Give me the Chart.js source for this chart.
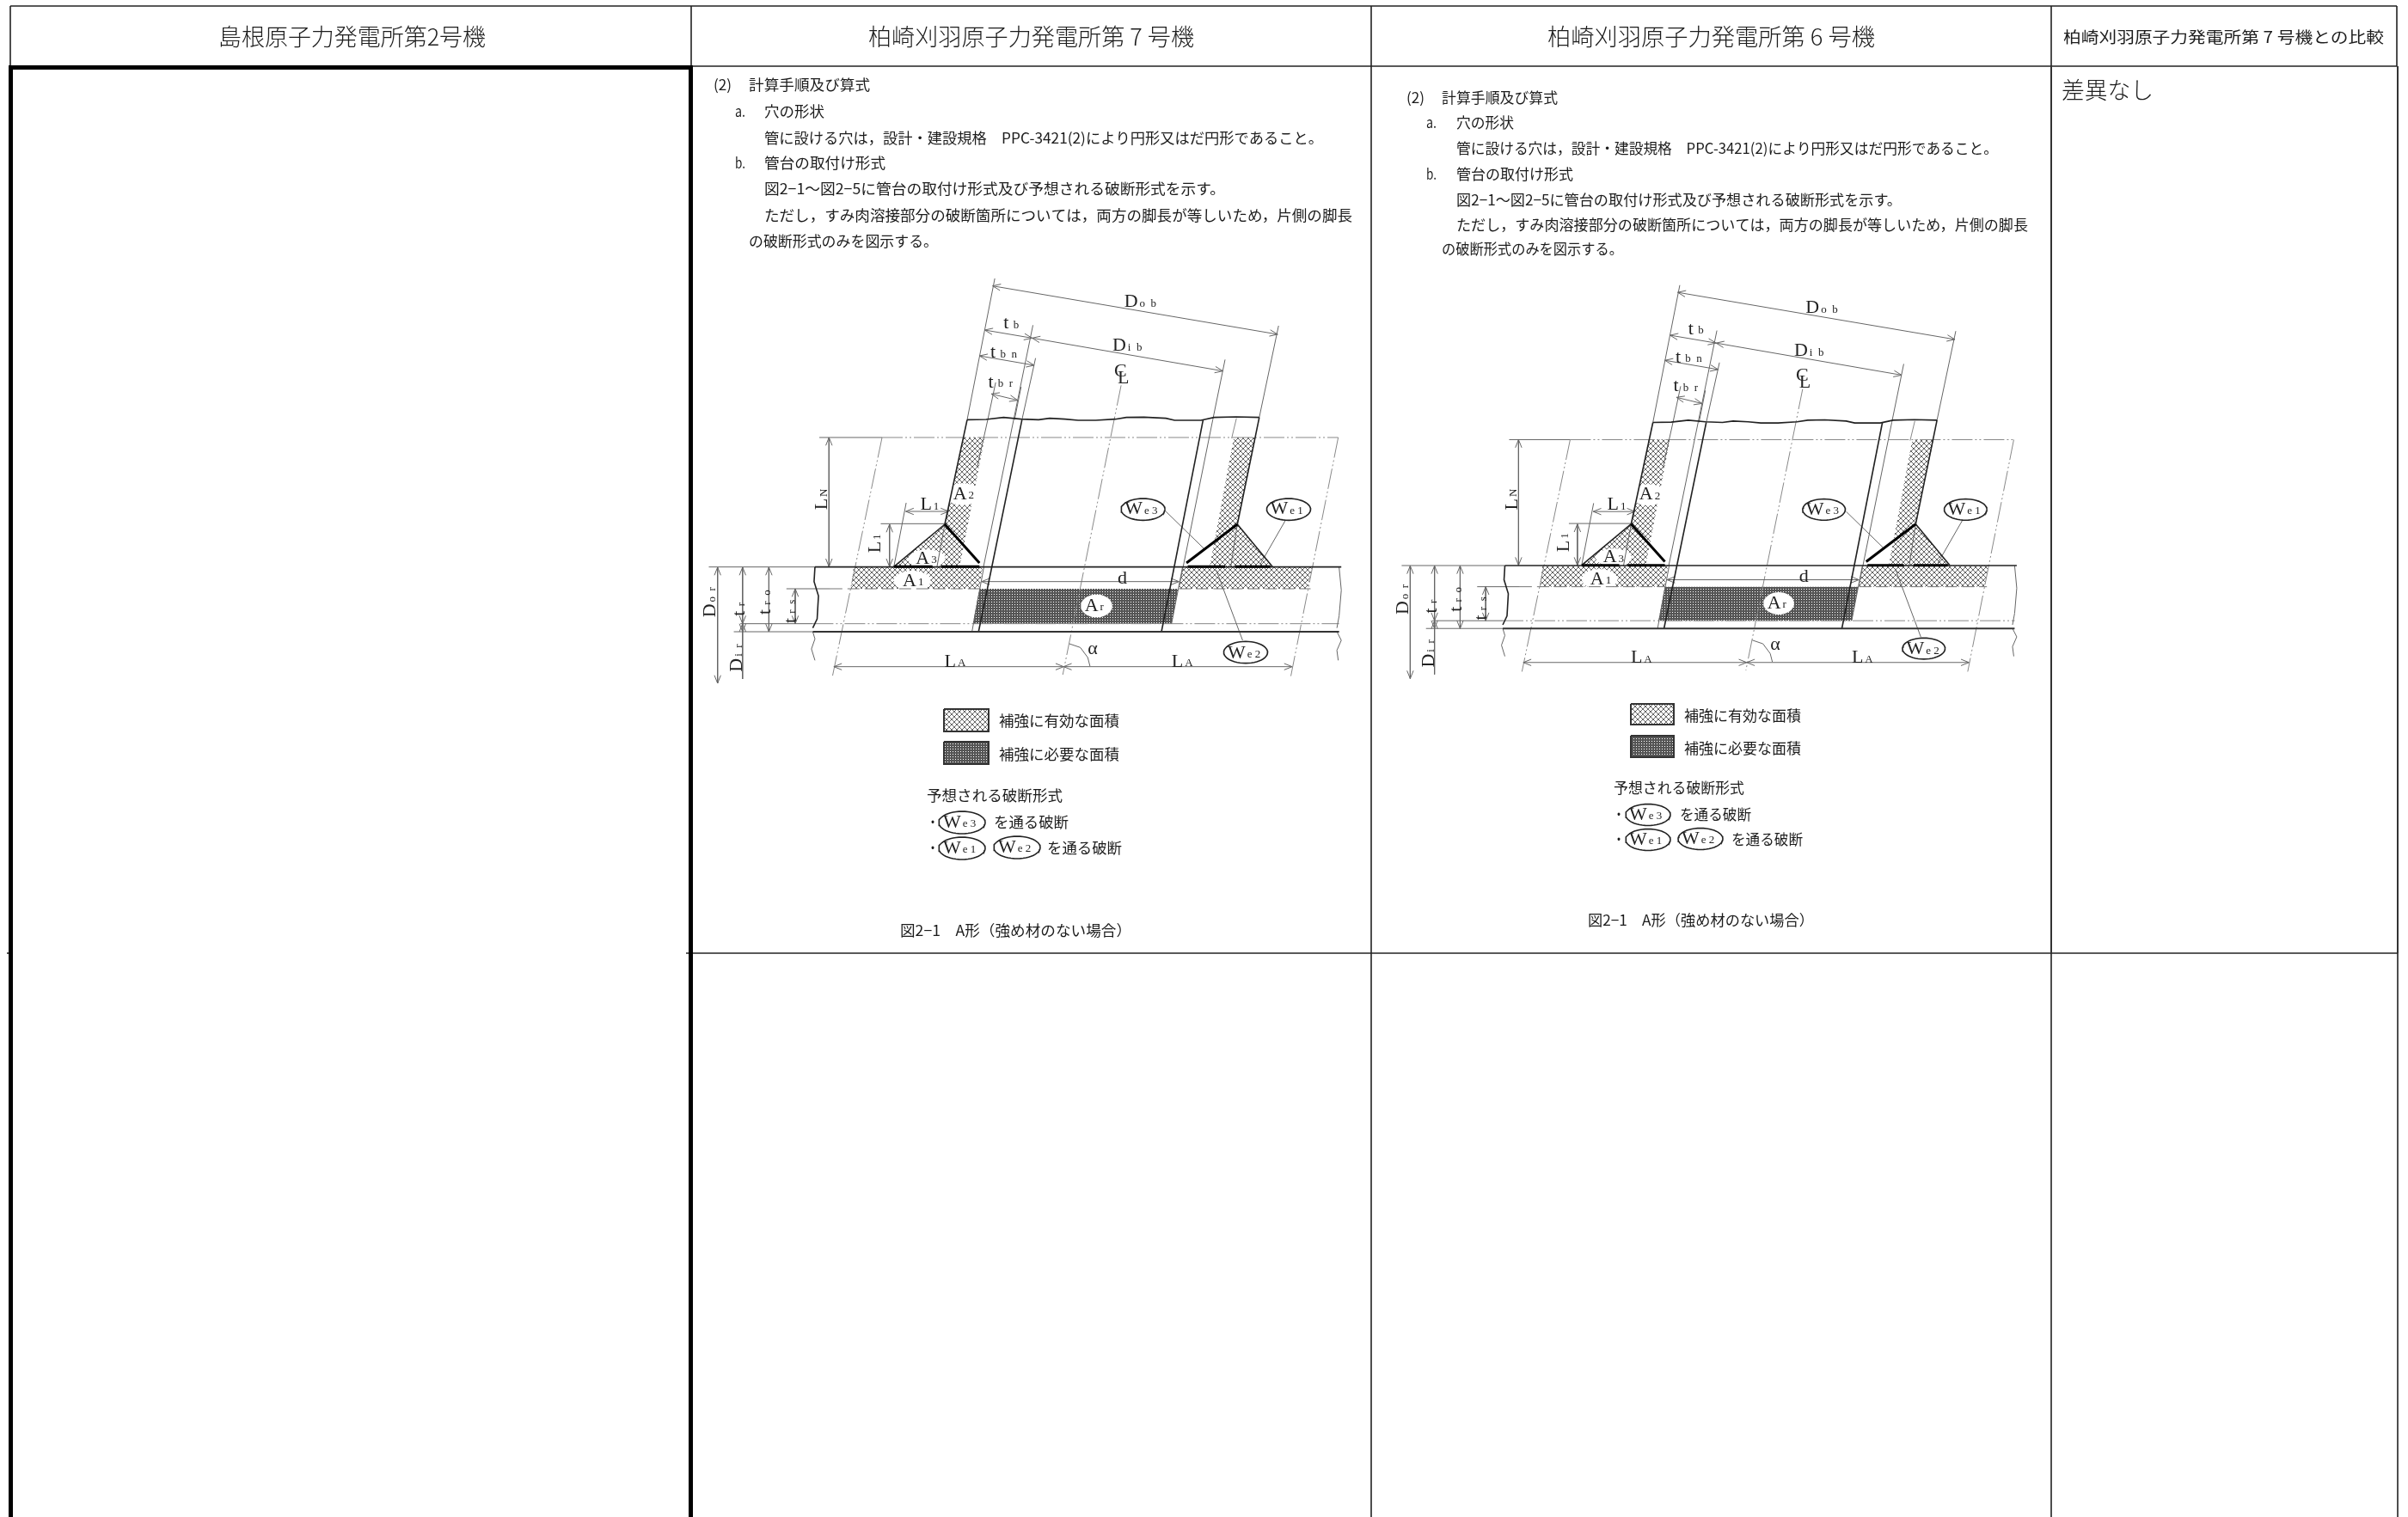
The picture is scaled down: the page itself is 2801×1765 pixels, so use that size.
<!DOCTYPE html>
<html lang="ja">
<head>
<meta charset="UTF-8">
<title>比較表</title>
<script src="https://cdn.jsdelivr.net/npm/chart.js@4/dist/chart.umd.min.js"></script>
<style>
    html, body { margin: 0; padding: 0; background: #fff; }
    canvas { display: block; }
</style>
</head>
<body>
<canvas id="sheet" width="2801" height="1765"></canvas>
<script>
// ---- table frame, read in page pixels ----
const frameThin = [
    [[12, 7], [2788, 7]], [[12, 7], [12, 77]], [[804, 7], [804, 77]], [[1595, 7], [1595, 1765]],
    [[2386, 1109], [2386, 1765]], [[2789, 1109], [2789, 1765]], [[2386, 7], [2386, 77]], [[2788, 7], [2788, 77]],
    [[806, 77], [2788, 77]], [[798, 1109], [2789, 1109]], [[8, 1109], [12, 1109]]
];
const frameHeavy = [[[10, 78.5], [806, 78.5]], [[12.5, 76], [12.5, 1765]], [[803.5, 76], [803.5, 1765]]];
const frameMid = [[[2386, 77], [2386, 1109]], [[2789, 77], [2789, 1109]]];

// ---- nozzle drawing, read in crop pixels of the first drawing ----
const hatchAreas = [
    [[378, 1050], [672, 1050], [665, 1125], [372, 1125]],
    [[1128, 1050], [1423, 1050], [1413, 1125], [1120, 1125]],
    [[627, 597], [677, 597], [620, 1048], [568, 1048], [586, 900]],
    [[1245, 597], [1295, 597], [1253, 900], [1240, 1048], [1190, 1048]],
    [[470, 1048], [586, 900], [568, 1048]],
    [[1253, 900], [1333, 1048], [1238, 1048]]
];
const requiredArea = [[665, 1125], [1118, 1125], [1103, 1247], [650, 1247]];
const whiteBlobs = [[512, 1098, 42, 36], [627, 795, 42, 38], [545, 1020, 42, 32], [932, 1185, 36, 40]];
const weldOvals = [[1038, 848, 50, 38], [1370, 848, 50, 38], [1272, 1347, 50, 38]];

const solidLines = [
    [[290, 1049], [1490, 1049]],
    [[637, 535], [586, 900]],
    [[1303, 527], [1253, 900]],
    [[637, 535], [680, 534], [720, 527], [760, 533], [800, 535], [825, 530], [860, 533], [890, 537], [930, 537],
     [975, 533], [1000, 527], [1040, 526], [1090, 530], [1110, 537], [1170, 537], [1200, 527], [1250, 525], [1303, 527]],
    [[762, 535], [663, 1275]],
    [[1175, 535], [1080, 1275]],
    [[470, 1048], [586, 900]],
    [[1253, 900], [1333, 1048]],
    [[290, 1049], [288, 1100], [298, 1150], [295, 1230], [285, 1262]]
];
const midLines = [[[285, 1275], [1485, 1275]]];
const thinLines = [
    [[700, 42], [637, 535]], [[787, 205], [743, 535], [674, 1050]], [[793, 320], [762, 535]],
    [[702, 405], [684, 535], [660, 700]], [[760, 420], [745, 535]],
    [[1225, 325], [1197, 535], [1120, 1120]], [[1347, 207], [1303, 527]],
    [[675, 1050], [648, 1275]], [[1128, 1050], [1103, 1247]],
    [[498, 825], [470, 1048]], [[586, 900], [568, 1050]], [[1253, 900], [1238, 1048]],
    [[48, 1049], [290, 1049]], [[105, 1275], [285, 1275]], [[120, 1247], [285, 1247]], [[225, 1125], [325, 1125]],
    [[440, 898], [586, 898]], [[596, 832], [590, 880]], [[300, 597], [443, 597]],
    [[1485, 1050], [1490, 1130], [1485, 1220], [1480, 1262]],
    [[285, 1275], [290, 1300], [282, 1335], [290, 1375]],
    [[1480, 1275], [1490, 1305], [1480, 1340], [1483, 1375]],
    [[1090, 855], [1177, 985]], [[1365, 880], [1305, 1040]], [[1265, 1305], [1205, 1060]],
    [[870, 1317], [895, 1330], [912, 1365], [917, 1395]]
];
const heavyLines = [
    [[586, 900], [665, 1035]], [[1137, 1035], [1253, 900]],
    [[470, 1048], [558, 1048]], [[578, 1048], [665, 1048]],
    [[1140, 1048], [1225, 1048]], [[1248, 1048], [1328, 1048]]
];
const chainLines = [
    [[443, 597], [1483, 597]], [[285, 1247], [1485, 1247]],
    [[443, 597], [330, 1430]], [[1483, 597], [1375, 1430]], [[988, 415], [855, 1425]],
    [[1251, 530], [1240, 600]]
];
const dashedLines = [[[325, 1125], [665, 1125]], [[1120, 1125], [1420, 1125]]];
const dimArrows = [
    [695, 68, 1345, 237], [677, 222, 785, 250], [785, 250, 1220, 365], [665, 312, 790, 345], [692, 445, 752, 467],
    [322, 597, 322, 1048], [497, 855, 595, 855], [460, 900, 460, 1048], [670, 1100, 1120, 1100],
    [68, 1050, 68, 1455], [125, 1050, 125, 1247], [125, 1247, 125, 1275], [185, 1050, 185, 1275], [245, 1125, 245, 1247],
    [333, 1397, 857, 1397], [857, 1397, 1378, 1397]
];
const singleLine = [[125, 1275], [125, 1440]];

// ---- text ----
const headerLabels = ['島根原子力発電所第2号機', '柏崎刈羽原子力発電所第 7 号機', '柏崎刈羽原子力発電所第 6 号機', '柏崎刈羽原子力発電所第 7 号機との比較', '差異なし'];
const noteLabels = [
    '(2)', '計算手順及び算式', 'a.', '穴の形状',
    '管に設ける穴は，設計・建設規格　PPC-3421(2)により円形又はだ円形であること。',
    'b.', '管台の取付け形式',
    '図2−1〜図2−5に管台の取付け形式及び予想される破断形式を示す。',
    'ただし，すみ肉溶接部分の破断箇所については，両方の脚長が等しいため，片側の脚長',
    'の破断形式のみを図示する。'
];
const legendLabels = ['補強に有効な面積', '補強に必要な面積', '予想される破断形式', '・', 'を通る破断', '・', 'を通る破断', '図2−1　A形（強め材のない場合）'];
const drawingLabels = [
    ['D', 'o  b'], ['D', 'i  b'], ['t', ' b'], ['t', ' b  n'], ['t', ' b  r'], ['C', ''], ['L', ''], ['L', '1'], ['L', 'N'], ['L', '1'],
    ['A', '2'], ['A', '3'], ['A', '1'], ['A', 'r'], ['d', ''], ['D', 'o  r'], ['t', ' r'], ['t', ' r  o'], ['t', ' r  s'], ['D', 'i  r'],
    ['L', 'A'], ['L', 'A'], ['α', ''], ['W', 'e 3'], ['W', 'e 1'], ['W', 'e 2']
];

// placement of the text: [left, right, y, font size]
const headerSlots = [[254, 565, 43, 27], [1010, 1389, 43, 27], [1800, 2181, 43, 27], [2400, 2773, 43, 18], [2398, 2505, 105, 27]];
const noteSlots1 = [[830, 851, 99, 17], [871, 1012, 99, 17], [855, 867, 130, 17], [889, 959, 130, 17], [889, 1539, 161, 17],
    [855, 867, 190, 17], [889, 1030, 190, 17], [889, 1425, 220, 17], [889, 1573, 251, 17], [871, 1091, 281, 17]];
const noteSlots2 = [[1636, 1657, 114, 17], [1677, 1812, 114, 17], [1659, 1671, 143, 17], [1694, 1761, 143, 17], [1694, 2324, 173, 17],
    [1659, 1671, 203, 17], [1694, 1830, 203, 17], [1694, 2212, 233, 17], [1694, 2359, 262, 17], [1677, 1888, 290, 17]];
const legendSlots1 = [[1162, 1302, 839, 17], [1162, 1302, 878, 17], [1078, 1236, 926, 17], [1078, 1092, 957, 17], [1156, 1243, 957, 17],
    [1078, 1092, 987, 17], [1218, 1305, 987, 17], [1047, 1316, 1083, 17]];
const legendSlots2 = [[1959, 2095, 833, 17], [1959, 2095, 871, 17], [1877, 2029, 917, 17], [1876, 1890, 948, 17], [1954, 2037, 948, 17],
    [1876, 1890, 977, 17], [2014, 2097, 977, 17], [1847, 2110, 1071, 17]];
// [x, y, rotated] in crop pixels
const drawingSlots = [
    [995, 125, 0], [968, 278, 0], [720, 200, 0], [690, 302, 0], [685, 405, 0], [972, 368, 0], [980, 392, 0], [530, 832, 0],
    [307, 850, 1], [428, 1000, 1], [605, 795, 0], [520, 1020, 0], [490, 1098, 0], [905, 1185, 0], [980, 1090, 0],
    [52, 1225, 1], [118, 1220, 1], [177, 1215, 1], [235, 1245, 1], [112, 1415, 1],
    [585, 1380, 0], [1103, 1380, 0], [912, 1335, 0], [996, 848, 0], [1328, 848, 0], [1231, 1350, 0]
];
// legend boxes and ovals in page pixels: [left, top, right, bottom] and [cx, cy, rx, ry]
const legendBoxes1 = [[1098, 825, 1150, 851], [1098, 863, 1150, 889]];
const legendBoxes2 = [[1897, 819, 1947, 843], [1897, 856, 1947, 881]];
const legendOvals1 = [[1119, 957, 27, 13], [1119, 987, 27, 13], [1183, 986, 27, 13]];
const legendOvals2 = [[1917, 948, 26, 12.5], [1917, 977, 26, 12.5], [1978, 976, 26, 12.5]];
const ovalLabels = [['W', 'e 3'], ['W', 'e 1'], ['W', 'e 2']];

// crop pixels to page pixels for each of the two drawings
const toPage1 = (x, y) => [800 + x / 1.96, 310 + y / 3];
const toPage2 = (x, y) => [1600 + (295 + 0.9725 * (x - 290)) / 1.96, 310 + (1045 + 0.972 * (y - 1050)) / 3];
const samePage = (x, y) => [x, y];

function tile(size, paint) {
    const c = document.createElement('canvas');
    c.width = c.height = size;
    paint(c.getContext('2d'));
    return c.getContext('2d').createPattern(c, 'repeat');
}
const meshFill = tile(6, g => {
    g.fillStyle = '#fff';
    g.fillRect(0, 0, 6, 6);
    g.strokeStyle = '#666';
    g.lineWidth = 1;
    g.beginPath();
    g.moveTo(0, 0); g.lineTo(6, 6);
    g.moveTo(6, 0); g.lineTo(0, 6);
    g.stroke();
});
const denseFill = tile(3, g => {
    g.fillStyle = '#555';
    g.fillRect(0, 0, 3, 3);
    g.fillStyle = '#fff';
    g.fillRect(1, 1, 1, 1);
});

const styles = {
    thin: { borderColor: '#666', borderWidth: 1 },
    solid: { borderColor: '#222', borderWidth: 1.6 },
    mid: { borderColor: '#333', borderWidth: 2 },
    heavy: { borderColor: '#000', borderWidth: 3 },
    frame: { borderColor: '#000', borderWidth: 5 },
    chain: { borderColor: '#888', borderWidth: 1, borderDash: [24, 3, 2, 3, 2, 3] },
    dash: { borderColor: '#777', borderWidth: 1, borderDash: [14, 6] }
};

const datasets = [];
function addLine(points, style, move) {
    datasets.push({
        data: points.map(p => { const q = move(p[0], p[1]); return { x: q[0], y: q[1] }; }),
        showLine: true, pointRadius: 0, fill: false, tension: 0, ...styles[style]
    });
}
function addArea(points, fillStyle, move, style) {
    datasets.push({
        data: points.concat([points[0]]).map(p => { const q = move(p[0], p[1]); return { x: q[0], y: q[1] }; }),
        showLine: true, pointRadius: 0, fill: 'shape', tension: 0, backgroundColor: fillStyle,
        borderColor: style ? styles[style].borderColor : 'transparent', borderWidth: style ? styles[style].borderWidth : 0
    });
}
function ovalPoints(cx, cy, rx, ry) {
    const pts = [];
    for (let i = 0; i < 48; i++) {
        const a = i / 48 * Math.PI * 2;
        pts.push([cx + Math.cos(a) * rx, cy + Math.sin(a) * ry]);
    }
    return pts;
}
function addArrow(a, move) {
    const p = move(a[0], a[1]), q = move(a[2], a[3]);
    addLine([p, q], 'thin', samePage);
    const ang = Math.atan2(q[1] - p[1], q[0] - p[0]);
    [[p, ang], [q, ang + Math.PI]].forEach(([tip, t]) => {
        const len = 10, spread = 0.38;
        addLine([[tip[0] + Math.cos(t + spread) * len, tip[1] + Math.sin(t + spread) * len], tip,
                 [tip[0] + Math.cos(t - spread) * len, tip[1] + Math.sin(t - spread) * len]], 'thin', samePage);
    });
}

function addDrawing(move) {
    hatchAreas.forEach(a => addArea(a, meshFill, move));
    addArea(requiredArea, denseFill, move);
    whiteBlobs.forEach(b => addArea(ovalPoints(b[0], b[1], b[2], b[3]), '#fff', move));
    chainLines.forEach(l => addLine(l, 'chain', move));
    dashedLines.forEach(l => addLine(l, 'dash', move));
    thinLines.forEach(l => addLine(l, 'thin', move));
    addLine(singleLine, 'thin', move);
    dimArrows.forEach(a => addArrow(a, move));
    solidLines.forEach(l => addLine(l, 'solid', move));
    midLines.forEach(l => addLine(l, 'mid', move));
    heavyLines.forEach(l => addLine(l, 'heavy', move));
    weldOvals.forEach(o => addArea(ovalPoints(o[0], o[1], o[2], o[3]), '#fff', move, 'solid'));
}
function addLegend(boxes, ovals) {
    boxes.forEach((b, i) => addArea([[b[0], b[1]], [b[2], b[1]], [b[2], b[3]], [b[0], b[3]]],
        i === 0 ? meshFill : denseFill, samePage, 'mid'));
    ovals.forEach(o => addArea(ovalPoints(o[0], o[1], o[2], o[3]), '#fff', samePage, 'solid'));
}

frameThin.forEach(l => addLine(l, 'solid', samePage));
frameMid.forEach(l => addLine(l, 'mid', samePage));
frameHeavy.forEach(l => addLine(l, 'frame', samePage));
addDrawing(toPage1);
addDrawing(toPage2);
addLegend(legendBoxes1, legendOvals1);
addLegend(legendBoxes2, legendOvals2);
datasets.reverse(); // first dataset is painted last

const sheetText = {
    id: 'sheetText',
    afterDatasetsDraw(chart) {
        const ctx = chart.ctx, sx = chart.scales.x, sy = chart.scales.y;
        function fitted(str, slot, size) {
            const x = sx.getPixelForValue(slot[0]), y = sy.getPixelForValue(slot[2]);
            ctx.save();
            ctx.font = (size > 20 ? '300 ' : '400 ') + size + "px 'Noto Sans CJK JP'";
            ctx.fillStyle = '#1c1c1c';
            ctx.textBaseline = 'middle';
            const w = ctx.measureText(str).width;
            ctx.translate(x, y);
            ctx.scale((slot[1] - slot[0]) / w, 1);
            ctx.fillText(str, 0, 0);
            ctx.restore();
        }
        function mainSub(pair, px, py, rotated, big, small) {
            ctx.save();
            ctx.translate(sx.getPixelForValue(px), sy.getPixelForValue(py));
            if (rotated) ctx.rotate(-Math.PI / 2);
            ctx.fillStyle = '#222';
            ctx.textBaseline = 'middle';
            ctx.font = big + "px 'Liberation Serif'";
            ctx.fillText(pair[0], 0, 0);
            const w = ctx.measureText(pair[0]).width;
            ctx.font = small + "px 'Liberation Serif'";
            ctx.fillText(pair[1], w + 2, 2);
            ctx.restore();
        }
        headerLabels.forEach((t, i) => fitted(t, headerSlots[i], headerSlots[i][3]));
        noteLabels.forEach((t, i) => fitted(t, noteSlots1[i], noteSlots1[i][3]));
        noteLabels.forEach((t, i) => fitted(t, noteSlots2[i], noteSlots2[i][3]));
        legendLabels.forEach((t, i) => fitted(t, legendSlots1[i], legendSlots1[i][3]));
        legendLabels.forEach((t, i) => fitted(t, legendSlots2[i], legendSlots2[i][3]));
        [toPage1, toPage2].forEach(move => {
            drawingLabels.forEach((pair, i) => {
                const s = drawingSlots[i], q = move(s[0], s[1]);
                mainSub(pair, q[0], q[1], s[2] === 1, 22, 13);
            });
        });
        [legendOvals1, legendOvals2].forEach(list => {
            list.forEach((o, i) => mainSub(ovalLabels[i], o[0] - 22, o[1], false, 22, 13));
        });
    }
};

new Chart(document.getElementById('sheet'), {
    type: 'scatter',
    data: { datasets: datasets },
    options: {
        responsive: false,
        animation: false,
        layout: { padding: 0 },
        events: [],
        plugins: { legend: { display: false }, tooltip: { enabled: false } },
        scales: {
            x: { type: 'linear', min: 0, max: 2801, display: false },
            y: { type: 'linear', min: 0, max: 1765, reverse: true, display: false }
        }
    },
    plugins: [sheetText]
});
</script>
</body>
</html>
